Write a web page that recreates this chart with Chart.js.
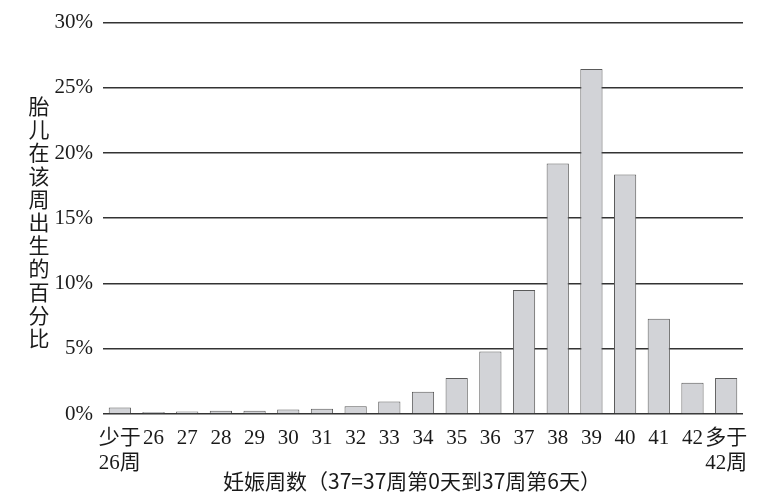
<!DOCTYPE html>
<html>
<head>
<meta charset="utf-8">
<script src="https://cdn.jsdelivr.net/npm/chart.js@4.4.1/dist/chart.umd.min.js"></script>
<style>
  html, body { margin: 0; padding: 0; background: #fff; }
  #wrap { width: 766px; height: 500px; position: relative; }
</style>
</head>
<body>
<div id="wrap"><canvas id="chart"></canvas></div>
<script>
// categorie (settimane di gestazione)
const weeks = [
  ['少于', '26周'], '26', '27', '28', '29', '30', '31', '32', '33', '34',
  '35', '36', '37', '38', '39', '40', '41', '42', ['多于', '42周']
];
// percentuale di nascite per settimana (%)
const birthPct = [0.5, 0.15, 0.2, 0.25, 0.25, 0.35, 0.4, 0.6, 0.95, 1.7,
  2.75, 4.8, 9.5, 19.2, 26.45, 18.35, 7.3, 2.4, 2.75];
const yTicks = [0, 5, 10, 15, 20, 25, 30];

const yTitle = '胎儿在该周出生的百分比';
const xTitle = '妊娠周数（37=37周第0天到37周第6天）';

const serif = '"Liberation Serif", "Noto Sans CJK SC", serif';
const cjk = '"Noto Sans CJK SC", "Liberation Serif", serif';

// titoli degli assi disegnati a mano (asse y verticale, carattere per carattere)
const axisTitles = {
  id: 'axisTitles',
  afterDraw(chart) {
    const ctx = chart.ctx;
    ctx.save();
    ctx.fillStyle = '#1a1a1a';
    ctx.font = '21px ' + cjk;
    ctx.textAlign = 'center';
    ctx.textBaseline = 'middle';
    const chars = Array.from(yTitle);
    chars.forEach((c, i) => ctx.fillText(c, 39, 106 + i * 23.2));
    ctx.font = '21px ' + cjk;
    ctx.fillText(xTitle, 412, 481);
    ctx.restore();
  }
};

new Chart(document.getElementById('chart'), {
  type: 'bar',
  data: {
    labels: weeks,
    datasets: [{
      data: birthPct,
      backgroundColor: '#d2d3d7',
      borderColor: '#5a5a5a',
      borderWidth: 1,
      barPercentage: 0.66,
      categoryPercentage: 1
    }]
  },
  options: {
    responsive: true,
    maintainAspectRatio: false,
    animation: false,
    layout: { padding: { top: 22, right: 23, left: 0, bottom: 0 } },
    plugins: {
      legend: { display: false },
      tooltip: { enabled: false }
    },
    scales: {
      x: {
        grid: { display: false },
        border: { display: false },
        ticks: {
          color: '#1a1a1a',
          font: { family: serif, size: 21 },
          padding: 4,
          maxRotation: 0,
          autoSkip: false
        },
        afterFit(scale) { scale.height = 86; }
      },
      y: {
        min: 0,
        max: 30,
        afterBuildTicks(scale) { scale.ticks = yTicks.map(v => ({ value: v })); },
        grid: { color: '#333', lineWidth: 1.6, drawTicks: false },
        border: { display: false },
        ticks: {
          color: '#1a1a1a',
          font: { family: serif, size: 21 },
          padding: 10,
          callback: v => v + '%'
        },
        afterFit(scale) { scale.width = 103; }
      }
    }
  },
  plugins: [axisTitles]
});
</script>
</body>
</html>
